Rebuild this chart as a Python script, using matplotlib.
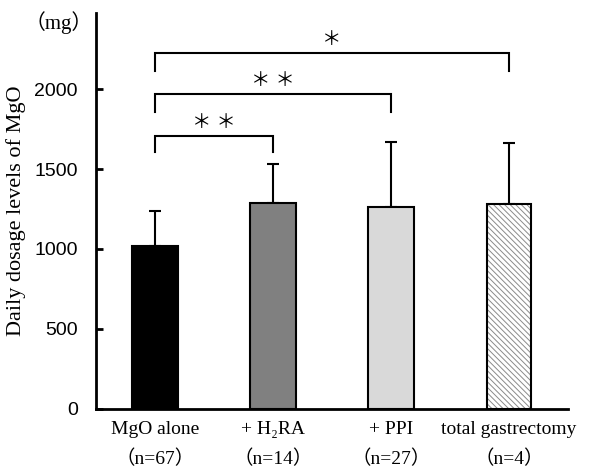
import matplotlib
matplotlib.use("Agg")
import matplotlib.pyplot as plt

# --------------------------
# Daten
# --------------------------
groups = ["MgO alone", "+ H\u2082RA", "+ PPI", "total gastrectomy"]
counts = ["\uff08n=67\uff09", "\uff08n=14\uff09", "\uff08n=27\uff09", "\uff08n=4\uff09"]
means = [1020, 1287, 1262, 1281]
sds = [218, 244, 407, 381]

# Signifikanz-Klammern: (von, bis, Höhe, Fußhöhe, Sterne)
brackets = [
    (0, 1, 1706, 1606, "\uff0a \uff0a"),
    (0, 2, 1969, 1856, "\uff0a \uff0a"),
    (0, 3, 2225, 2115, "\uff0a"),
]
yticks = [0, 500, 1000, 1500, 2000]

serif = ["Liberation Serif", "Noto Sans CJK JP", "DejaVu Serif"]
sans = ["Liberation Sans", "DejaVu Sans"]

fig = plt.figure(figsize=(5.89, 4.71), dpi=100)
ax = fig.add_axes([0.163, 0.132, 0.801, 0.840])

x = list(range(len(groups)))
colors = ["black", "#808080", "#d9d9d9", "white"]

# Balken
ax.bar(x[:3], means[:3], width=0.39, color=colors[:3], edgecolor="black",
       linewidth=1.5, zorder=2)
plt.rcParams["hatch.linewidth"] = 0.7
ax.bar(x[3], means[3], width=0.37, color="white", edgecolor="#8a8a8a",
       hatch="\\\\\\\\\\\\", linewidth=0, zorder=2)
ax.bar(x[3], means[3], width=0.37, fill=False, edgecolor="black",
       linewidth=1.5, zorder=3)

# Fehlerbalken (nur nach oben)
ax.errorbar(x, means, yerr=[[0] * 4, sds], fmt="none", ecolor="black",
            elinewidth=1.5, capsize=4.5, capthick=1.5, zorder=1)

# Klammern
for a, b, h, foot, stars in brackets:
    ax.plot([a, a, b, b], [foot, h, h, foot], color="black", lw=1.5,
            solid_joinstyle="miter", clip_on=False)
    ax.text((a + b) / 2, h + 25, stars, ha="center", va="bottom",
            fontsize=14, family=serif)

# Achsen
ax.set_xlim(-0.5, 3.5)
ax.set_ylim(0, 2475)
ax.spines["top"].set_visible(False)
ax.spines["right"].set_visible(False)
ax.spines["left"].set_linewidth(2)
ax.spines["bottom"].set_linewidth(2)

ax.set_yticks(yticks)
ax.set_yticklabels([str(t) for t in yticks], fontsize=14, family=sans)
ax.tick_params(axis="y", direction="in", length=5, width=2, pad=13)

ax.set_xticks(x)
ax.set_xticklabels([g + "\n" + c for g, c in zip(groups, counts)],
                   fontsize=14, family=serif, linespacing=1.75)
ax.tick_params(axis="x", length=0, pad=9)

ax.set_ylabel("Daily dosage levels of MgO", fontsize=16, family=serif,
              labelpad=6)
ax.annotate("\uff08mg\uff09", xy=(0, 1), xycoords="axes fraction",
            xytext=(-27, -7), textcoords="offset points", fontsize=15,
            family=serif, ha="center", va="center")

fig.savefig("out.png", dpi=100)
